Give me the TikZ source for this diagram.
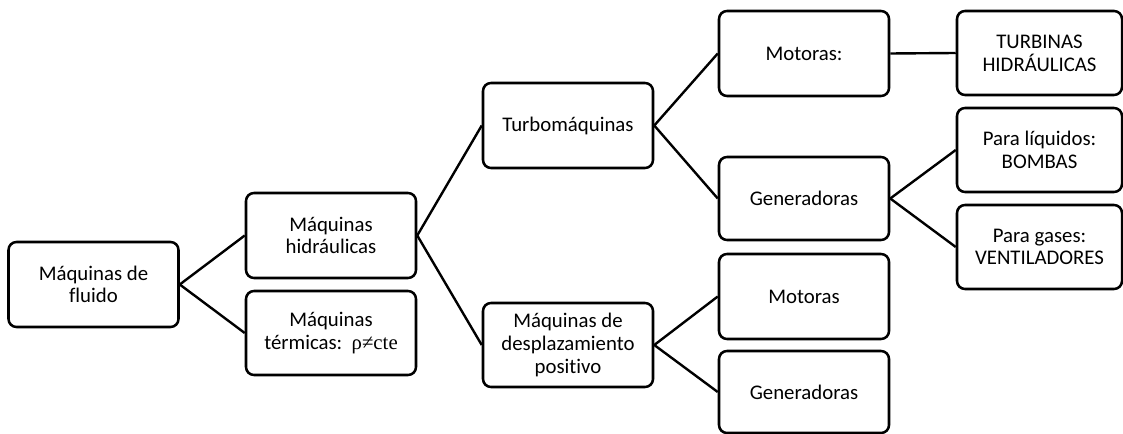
\documentclass[tikz,border=0pt]{standalone}
\usepackage{fontspec}
\setmainfont{Carlito}[Ligatures=NoCommon]
\newfontfamily\serifsym{Liberation Serif}
\begin{document}
\begin{tikzpicture}[x=0.75pt,y=-0.75pt,
  box/.style={draw, line width=1.9pt, rounded corners=6pt, align=center,
    minimum width=#1*0.75pt, inner sep=0pt,
    font=\fontsize{15.6pt}{17pt}\selectfont},
  box/.default=170,
  conn/.style={line width=1.8pt}]
\useasboundingbox (0,0) rectangle (1123,434);
\node[box, minimum height=85*0.75pt] (fluido) at (93.5,284.5) {Máquinas de\\fluido};
\node[box, minimum height=85*0.75pt] (hidr) at (331,235.5) {Máquinas\\hidráulicas};
\node[box, minimum height=84*0.75pt] (term) at (331,333) {Máquinas\\térmicas:\ \ {\serifsym ρ≠cte}};
\node[box, minimum height=85*0.75pt] (turbo) at (568,125.5) {Turbomáquinas};
\node[box, minimum height=84*0.75pt] (desp) at (568,345) {Máquinas de\\desplazamiento\\positivo};
\node[box, minimum height=85*0.75pt] (mot1) at (804,53.5) {Motoras:};
\node[box, minimum height=83*0.75pt] (gen1) at (804,198.5) {Generadoras};
\node[box, minimum height=85*0.75pt] (mot2) at (804,296.5) {Motoras};
\node[box, minimum height=82*0.75pt] (gen2) at (804,392) {Generadoras};
\node[box=165, minimum height=84*0.75pt] (turb) at (1039.5,53) {TURBINAS\\HIDRÁULICAS};
\node[box=165, minimum height=84*0.75pt] (liq) at (1039.5,150) {Para líquidos:\\BOMBAS};
\node[box=165, minimum height=84*0.75pt] (gas) at (1039.5,247) {Para gases:\\VENTILADORES};
\draw[conn] (fluido.east) -- (hidr.west);
\draw[conn] (fluido.east) -- (term.west);
\draw[conn] (hidr.east) -- (turbo.west);
\draw[conn] (hidr.east) -- (desp.west);
\draw[conn] (turbo.east) -- (mot1.west);
\draw[conn] (turbo.east) -- (gen1.west);
\draw[conn] (mot1.east) -- (turb.west);
\draw[conn] (gen1.east) -- (liq.west);
\draw[conn] (gen1.east) -- (gas.west);
\draw[conn] (desp.east) -- (mot2.west);
\draw[conn] (desp.east) -- (gen2.west);
\end{tikzpicture}
\end{document}
